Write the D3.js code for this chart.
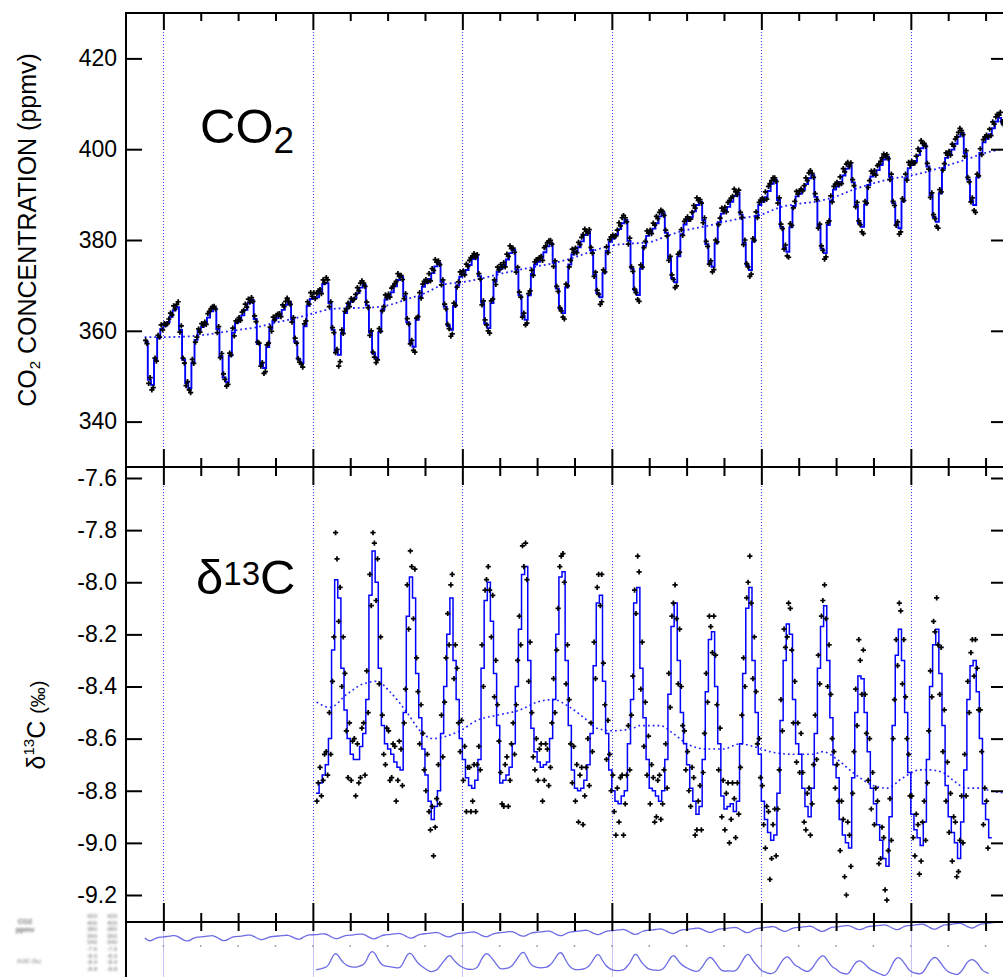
<!DOCTYPE html>
<html>
<head>
<meta charset="utf-8">
<script src="https://cdn.jsdelivr.net/npm/d3@7"></script>
<style>
  body { margin: 0; background: #fff; }
  svg { display: block; }
  text { font-family: "Liberation Sans", Arial, Helvetica, sans-serif; }
  .tick line { stroke: #000; stroke-width: 2; }
  .tick text { fill: #000; }
</style>
</head>
<body>
<svg id="chart" width="1003" height="977"></svg>
<script>
// ---- CO2 concentration (ppmv), monthly fitted values, July 1991 .. June 2014
const co2Start = [1991, 6];
const co2Monthly = [
  357.6, 349.2, 348.1, 353.6, 358.4, 360.4,
  361.1, 361.9, 363.1, 364.5, 365.2, 360.2, 353.6, 348.5, 347.4, 353.0, 358.0, 360.1,
  360.8, 361.7, 362.9, 364.3, 365.0, 360.4, 354.4, 349.7, 348.7, 354.5, 359.6, 361.7,
  362.5, 363.4, 364.6, 366.1, 366.8, 362.6, 357.1, 352.7, 351.8, 356.4, 360.5, 362.2,
  362.8, 363.5, 364.6, 365.7, 366.3, 362.5, 357.6, 353.7, 352.9, 361.0, 365.5, 367.0,
  367.4, 367.4, 368.6, 370.3, 370.5, 366.1, 360.2, 355.6, 354.7, 359.6, 363.9, 365.8,
  366.4, 367.2, 368.3, 369.5, 370.1, 365.6, 359.6, 355.0, 354.0, 359.7, 364.7, 366.9,
  367.6, 368.5, 369.8, 371.2, 371.9, 367.6, 361.9, 357.4, 356.5, 362.4, 367.5, 369.7,
  370.5, 371.4, 372.7, 374.2, 374.9, 370.8, 365.3, 361.1, 360.2, 365.4, 370.0, 371.9,
  372.6, 373.4, 374.5, 375.8, 376.5, 372.0, 366.2, 361.6, 360.6, 366.1, 370.9, 373.0,
  373.7, 374.5, 375.7, 377.1, 377.8, 373.5, 367.8, 363.3, 362.4, 367.8, 372.5, 374.6,
  375.2, 376.1, 377.3, 378.6, 379.3, 375.0, 369.3, 364.8, 363.9, 369.6, 374.6, 376.8,
  377.5, 378.4, 379.7, 381.1, 381.8, 377.8, 372.4, 368.3, 367.4, 372.8, 377.6, 379.6,
  380.3, 381.2, 382.4, 383.7, 384.4, 379.8, 373.7, 368.9, 367.9, 373.7, 378.7, 380.9,
  381.6, 382.5, 383.7, 385.2, 385.9, 381.6, 376.0, 371.6, 370.7, 376.4, 381.3, 383.4,
  384.2, 385.0, 386.3, 387.7, 388.4, 384.4, 379.1, 375.0, 374.1, 379.3, 383.9, 385.8,
  386.5, 387.3, 388.4, 389.7, 390.4, 385.6, 379.4, 374.4, 373.4, 379.7, 385.3, 387.7,
  388.4, 389.4, 390.8, 392.4, 393.2, 388.8, 382.9, 378.3, 377.4, 382.8, 387.5, 389.6,
  390.2, 391.1, 392.3, 393.6, 394.3, 389.5, 383.1, 378.1, 377.1, 383.3, 388.7, 391.1,
  391.8, 392.8, 394.2, 395.7, 396.5, 392.7, 387.7, 383.7, 382.9, 387.8, 392.1, 394.0,
  394.6, 395.4, 396.5, 397.7, 398.3, 393.9, 388.1, 383.5, 382.6, 388.5, 393.6, 395.8,
  396.5, 397.4, 398.7, 400.2, 400.9, 396.2, 389.9, 385.0, 384.0, 390.3, 395.8, 398.1,
  398.9, 399.9, 401.2, 402.8, 403.6, 399.1, 393.3, 388.7, 387.7, 393.8, 399.2, 401.5,
  402.3, 403.3, 404.6, 406.1, 406.9, 405.8
];
// flask samples: two per month, departure from the monthly fit in tenths of ppmv
const co2Scatter = [
  3,-4, -8,5, -11,-6, 4,-3, 6,2, 9,-2,
  5,2, -3,7, 8,4, 10,3, 6,12, -5,9, 4,-7, -6,3, -4,-10, 7,-2, -5,6, 3,-4,
  8,4, 2,-3, 9,14, 6,10, 4,-2, -8,5, -3,6, 8,-4, -9,-5, 6,2, 10,-7, 5,3,
  4,-2, 7,11, 13,6, 9,2, 5,-3, 7,-6, 4,2, -5,3, -12,-8, 5,9, 3,-6, 8,2,
  6,9, 3,-4, 11,7, 8,15, 2,-5, -6,4, 8,-3, 2,-6, -3,-9, 5,12, 9,4, 14,6,
  10,-3, 8,14, 5,-4, 9,3, 12,7, -8,3, 5,-6, -4,3, -25,-15, 6,-2, 4,9, 3,-5,
  7,3, -2,8, 12,5, 10,15, 4,-3, 7,-5, -6,4, 3,-8, -10,-4, 8,2, -3,6, 10,4,
  5,-2, 9,13, 6,11, 14,8, 3,-6, -5,6, 8,-4, -3,5, -8,-12, 4,7, 9,-3, 6,12,
  8,3, 12,-4, 10,6, 15,9, 5,-3, -7,4, 6,-5, 3,-6, -14,-9, 7,2, -4,8, 11,5,
  6,-3, 13,8, 10,16, 7,12, -4,3, 6,-6, -5,4, 8,-3, -6,-11, 5,9, 3,-7, 10,4,
  9,3, 5,-4, 12,7, 16,10, 4,-5, -6,5, 7,-4, -3,6, -11,-7, 4,10, 8,-3, 6,11,
  5,9, 3,-6, 10,14, 8,12, 6,-2, -8,4, 5,-6, 3,-4, -9,-13, 7,3, -5,9, 12,4,
  7,-3, 11,6, 9,15, 13,8, -3,5, 6,-7, -4,5, 6,-3, -16,-10, 6,2, 9,-4, 5,11,
  8,4, -3,10, 14,7, 12,17, 5,-4, -7,6, 4,-6, 3,-5, -10,-14, 8,3, -4,10, 11,6,
  6,-2, 12,8, 15,10, 9,14, 4,-5, 6,-7, -5,4, 7,-3, -12,-8, 5,9, 10,-3, 7,12,
  9,4, -4,11, 13,7, 16,10, 5,-3, -6,5, 6,-5, -3,4, -11,-6, 7,3, -5,9, 12,6,
  7,-3, 10,14, 8,12, 15,9, -4,6, 5,-6, -4,6, 4,-3, -14,-9, 6,2, 9,-4, 6,11,
  8,3, 12,-4, 10,16, 7,13, 5,-3, -7,5, 6,-4, -3,6, -9,-12, 8,4, -4,10, 11,5,
  6,10, -3,9, 14,8, 12,17, 4,-5, 7,-6, -5,4, 6,-4, -13,-8, 5,9, 10,-3, 7,12,
  9,4, 11,-4, 15,8, 10,14, -3,5, 6,-7, -4,6, 5,-3, -11,-15, 7,3, -5,10, 12,6,
  7,-3, 10,13, 8,16, 12,9, 5,-4, -6,6, 4,-5, -3,5, -13,-8, 6,2, 9,-4, 13,7,
  8,4, -4,11, 14,9, 17,11, 4,-3, 7,-6, -5,5, 6,-3, -10,-14, 8,3, -4,10, 11,6,
  6,-2, 12,8, 10,15, 9,18, 5,-4, -7,6, 5,-5, -3,6, -12,-16, 7,3, 9,-4, 6,12,
  8,4, 11,-3, 14,9, 10,16, 6,12, 3,-4
];
// long-term trend of CO2 (year, ppmv)
const co2TrendYears = [1991.5, 1992, 1992.5, 1993, 1993.5, 1994, 1994.5, 1995, 1995.5, 1996, 1996.5, 1997, 1997.5, 1998, 1998.5, 1999, 1999.5, 2000, 2000.5, 2001, 2001.5, 2002, 2002.5, 2003, 2003.5, 2004, 2004.5, 2005, 2005.5, 2006, 2006.5, 2007, 2007.5, 2008, 2008.5, 2009, 2009.5, 2010, 2010.5, 2011, 2011.5, 2012, 2012.5, 2013, 2013.5, 2014, 2014.6];
const co2TrendValues = [358.6, 358.6, 358.7, 359.0, 359.6, 360.2, 360.8, 361.8, 362.7, 363.8, 364.8, 365.0, 365.1, 365.6, 366.9, 368.3, 370.2, 370.7, 371.5, 372.5, 373.4, 374.2, 375.0, 376.2, 377.6, 378.8, 379.2, 379.5, 381.0, 382.2, 383.0, 384.0, 384.8, 385.6, 387.2, 388.0, 388.5, 389.6, 391.2, 392.5, 393.5, 394.2, 395.2, 396.5, 397.8, 399.2, 400.2];

// ---- delta 13C (per mil), monthly fitted values, February 1996 .. February 2014
const d13Start = [1996, 1];
const d13Monthly = [
  -8.81, -8.77, -8.74, -8.70, -8.60, -8.26, -7.99, -8.06, -8.33, -8.49, -8.60,
  -8.66, -8.68, -8.68, -8.63, -8.58, -8.45, -8.05, -7.88, -8.00, -8.33, -8.55, -8.62,
  -8.64, -8.66, -8.69, -8.71, -8.72, -8.50, -8.13, -7.98, -8.06, -8.35, -8.52, -8.64,
  -8.74, -8.84, -8.91, -8.86, -8.80, -8.58, -8.40, -8.20, -8.06, -8.30, -8.45, -8.60,
  -8.68, -8.75, -8.78, -8.79, -8.76, -8.68, -8.33, -8.07, -8.00, -8.15, -8.35, -8.55,
  -8.77, -8.76, -8.74, -8.71, -8.62, -8.40, -8.18, -7.97, -7.94, -8.30, -8.56, -8.65,
  -8.69, -8.71, -8.70, -8.69, -8.60, -8.45, -8.20, -7.98, -7.96, -8.30, -8.55, -8.72,
  -8.79, -8.80, -8.79, -8.76, -8.70, -8.58, -8.32, -8.08, -8.05, -8.38, -8.58, -8.72,
  -8.80, -8.84, -8.85, -8.82, -8.80, -8.62, -8.45, -8.08, -8.02, -8.33, -8.52, -8.68,
  -8.79, -8.80, -8.82, -8.84, -8.80, -8.68, -8.43, -8.17, -8.08, -8.30, -8.50, -8.62,
  -8.70, -8.79, -8.84, -8.89, -8.86, -8.68, -8.42, -8.22, -8.19, -8.40, -8.62, -8.82,
  -8.87, -8.86, -8.85, -8.88, -8.84, -8.62, -8.35, -8.10, -8.02, -8.30, -8.50, -8.66,
  -8.84, -8.91, -8.96, -8.99, -8.97, -8.81, -8.53, -8.30, -8.16, -8.20, -8.45, -8.62,
  -8.66, -8.79, -8.86, -8.90, -8.79, -8.58, -8.33, -8.17, -8.09, -8.30, -8.52, -8.70,
  -8.75, -8.91, -8.97, -9.00, -9.02, -8.75, -8.50, -8.36, -8.37, -8.50, -8.65, -8.79,
  -8.85, -8.93, -8.99, -9.06, -9.09, -8.90, -8.55, -8.28, -8.18, -8.30, -8.50, -8.73,
  -8.89, -8.95, -8.98, -9.01, -8.92, -8.68, -8.40, -8.24, -8.18, -8.35, -8.55, -8.78,
  -8.90, -8.96, -9.00, -9.06, -8.92, -8.72, -8.45, -8.32, -8.30, -8.42, -8.60, -8.85,
  -8.91, -8.98
];
// flask samples: two per month, departure from the monthly fit in hundredths of per mil
const d13Scatter = [
  -3,4, 6,-5, -2,8, 5,-4, 10,-6, -12,5, 18,8, -9,4, -7,12, 14,-8, -15,6,
  -10,5, 8,-14, 6,-9, -12,7, 4,-16, 11,-5, 8,-4, 7,3, -7,9, -6,12, 4,-11, -8,6,
  7,-12, -9,4, 6,-15, -5,10, 8,-6, -4,9, 12,-5, 10,4, -8,11, 6,-7, -10,5, 6,-8,
  -6,8, -4,-11, 5,-14, -8,3, 10,-5, 7,-9, -6,11, 8,-4, 5,9, -7,6, 12,-9, -5,7,
  -8,5, -13,4, 7,-10, -5,9, -12,6, 5,-4, 9,-7, 4,8, 6,-3, -6,10, -9,5, 8,-6,
  4,-8, -10,6, 7,-12, -5,9, 8,-4, -7,10, 5,-6, 11,3, 9,-5, -8,7, 6,-11, -7,5,
  -7,5, 9,-13, -6,8, 5,-9, -11,6, 8,-5, -6,10, 4,8, 7,-4, -9,6, 10,-7, -5,9,
  -5,9, -12,6, 8,-14, -6,5, 10,-8, 4,-7, 9,-5, 6,11, -4,8, 7,-9, -10,5, 6,-8,
  6,-8, -13,5, -7,10, 8,-15, -5,6, 7,-10, -6,9, 5,-4, 12,6, -8,10, -11,6, -6,9,
  -6,9, 5,-12, -8,6, 10,-7, -5,8, 6,-11, 8,-5, 4,9, 7,-6, -9,12, 10,-5, 5,-10,
  5,-10, -7,8, 9,-13, -6,5, 8,-9, -5,10, 7,-4, 9,5, -8,6, 12,-7, -10,6, -8,6,
  -8,6, 9,-14, -6,8, 5,-10, 7,-5, -9,11, 6,-5, 4,10, 12,-6, -7,9, 8,-12, 6,-9,
  6,-9, -11,5, 8,-18, -7,6, 10,-8, -6,9, 8,-4, 12,5, -5,8, 10,-6, -9,7, -7,8,
  -7,8, 6,-13, -9,5, 11,-7, -6,9, 7,-10, 5,-6, 4,10, 8,-5, -10,6, 9,-8, 5,-9,
  5,-9, -12,7, 6,-16, -20,8, 5,-7, -6,10, 9,-5, 14,6, -6,11, 7,-8, -11,5, -8,6,
  -8,6, 9,-15, -7,5, 8,-12, -13,6, 7,-9, -5,10, 6,-4, 10,7, -9,8, 6,-10, 7,-9,
  7,-9, -10,6, 5,-14, -6,9, 8,-7, -9,11, 6,-4, 9,5, 12,-6, -8,10, -10,6, -6,9,
  -6,9, -11,6, 8,-13, -5,7, 10,-8, 6,-10, 7,-5, 5,10, -6,8, 9,-7, 11,-5, -8,6,
  7,-11
];
// smoothed delta 13C (year, per mil)
const d13SmoothYears = [1996.1, 1996.46, 1996.91, 1997.34, 1997.72, 1998.06, 1998.52, 1998.87, 1999.22, 1999.59, 1999.94, 2000.39, 2000.93, 2001.54, 2002.0, 2002.43, 2002.88, 2003.34, 2003.6, 2004.03, 2004.57, 2004.75, 2005.29, 2005.64, 2006.01, 2006.55, 2006.98, 2007.43, 2007.78, 2008.23, 2008.85, 2009.38, 2009.65, 2010.03, 2010.45, 2010.99, 2011.36, 2011.79, 2012.25, 2012.51, 2012.86, 2013.13, 2013.5, 2013.85, 2014.12, 2014.6];
const d13SmoothValues = [-8.46, -8.48, -8.43, -8.39, -8.38, -8.42, -8.50, -8.57, -8.60, -8.59, -8.57, -8.53, -8.51, -8.49, -8.46, -8.45, -8.48, -8.53, -8.56, -8.57, -8.56, -8.55, -8.55, -8.58, -8.62, -8.64, -8.64, -8.62, -8.63, -8.65, -8.66, -8.66, -8.65, -8.68, -8.73, -8.78, -8.79, -8.75, -8.72, -8.72, -8.73, -8.76, -8.79, -8.79, -8.80, -8.81];

// axis ticks
const co2Ticks = [340, 360, 380, 400, 420];
const d13Ticks = [-7.6, -7.8, -8.0, -8.2, -8.4, -8.6, -8.8, -9.0, -9.2];
const yearTicks = d3.range(1991, 2015);
const majorYears = [1992, 1996, 2000, 2004, 2008, 2012];
const thumbLabels = ["420", "400", "380", "360", "340", "-7.6", "-8.0", "-8.4", "-8.8"];

// ---- layout
const svg = d3.select("#chart");
const x = d3.scaleLinear().domain([1991, 2014.6]).range([126, 1008]);
const yC = d3.scaleLinear().domain([330, 430]).range([467, 13]);
const yD = d3.scaleLinear().domain([-9.3036, -7.5578]).range([922, 467]);
const yCmini = d3.scaleLinear().domain([348, 407]).range([941, 922]);
const yDmini = d3.scaleLinear().domain([-9.1, -7.9]).range([976, 951]);

const monthTime = (start, i) => start[0] + (start[1] + i) / 12;
function monthlySeries(start, vals) {
  const pts = vals.map((v, i) => ({ t: monthTime(start, i), v }));
  pts.push({ t: monthTime(start, vals.length), v: vals[vals.length - 1] });
  return pts;
}
function samples(start, vals, resid, unit) {
  const out = [];
  const n = Math.min(vals.length * 2, resid.length);
  for (let k = 0; k < n; k++) {
    const i = Math.floor(k / 2);
    const frac = k % 2 === 0 ? 0.3 : 0.75;
    out.push({ t: monthTime(start, i + frac), v: vals[i] + resid[k] * unit });
  }
  return out;
}
const co2Line = monthlySeries(co2Start, co2Monthly);
const d13Line = monthlySeries(d13Start, d13Monthly);
const co2Pts = samples(co2Start, co2Monthly, co2Scatter, 0.1);
const d13Pts = samples(d13Start, d13Monthly, d13Scatter, 0.01);
const co2Trend = co2TrendYears.map((t, i) => ({ t, v: co2TrendValues[i] }));
const d13Smooth = d13SmoothYears.map((t, i) => ({ t, v: d13SmoothValues[i] }));

const defs = svg.append("defs");
defs.append("clipPath").attr("id", "clipTop").append("rect").attr("x", 127).attr("y", 14).attr("width", 900).attr("height", 452);
defs.append("clipPath").attr("id", "clipBot").append("rect").attr("x", 127).attr("y", 468).attr("width", 900).attr("height", 453);
defs.append("clipPath").attr("id", "clipMini").append("rect").attr("x", 127).attr("y", 923).attr("width", 900).attr("height", 60);
defs.append("filter").attr("id", "soft").append("feGaussianBlur").attr("stdDeviation", 0.6);
defs.append("filter").attr("id", "softer").append("feGaussianBlur").attr("stdDeviation", 0.85);

svg.append("rect").attr("width", 1003).attr("height", 977).attr("fill", "#fff");

// ---- four-year guide lines (dotted), snapped to whole pixels
const gx = d => Math.round(x(d)) + 0.5;
const guides = svg.append("g");
guides.selectAll("line.gt").data(majorYears).join("line")
  .attr("x1", gx).attr("x2", gx).attr("y1", 32).attr("y2", 449)
  .attr("stroke", "#3c3cff").attr("stroke-width", 1).attr("stroke-dasharray", "1,2");
guides.selectAll("line.gb").data(majorYears).join("line")
  .attr("x1", gx).attr("x2", gx).attr("y1", 486).attr("y2", 903)
  .attr("stroke", "#3c3cff").attr("stroke-width", 1).attr("stroke-dasharray", "1,2");
guides.selectAll("line.gm").data(majorYears).join("line")
  .attr("x1", gx).attr("x2", gx).attr("y1", 931).attr("y2", 977)
  .attr("stroke", "#c4c4f6").attr("stroke-width", 1);

// ---- CO2 panel
const gTop = svg.append("g").attr("clip-path", "url(#clipTop)");
gTop.append("path").datum(co2Trend)
  .attr("d", d3.line().x(d => x(d.t)).y(d => yC(d.v)).curve(d3.curveMonotoneX))
  .attr("fill", "none").attr("stroke", "#2020ff").attr("stroke-width", 1.8)
  .attr("stroke-dasharray", "1.8,3");
gTop.append("path").datum(co2Line)
  .attr("d", d3.line().x(d => x(d.t)).y(d => yC(d.v)).curve(d3.curveStepAfter))
  .attr("fill", "none").attr("stroke", "#0000ff").attr("stroke-width", 1.9);
const cross = d3.symbol(d3.symbolCross, 15);
gTop.selectAll("path.pt").data(co2Pts).join("path")
  .attr("transform", d => `translate(${x(d.t)},${yC(d.v)})`)
  .attr("d", cross).attr("fill", "#000");

// ---- delta 13C panel
const gBot = svg.append("g").attr("clip-path", "url(#clipBot)");
gBot.append("path").datum(d13Smooth)
  .attr("d", d3.line().x(d => x(d.t)).y(d => yD(d.v)).curve(d3.curveMonotoneX))
  .attr("fill", "none").attr("stroke", "#2020ff").attr("stroke-width", 1.6)
  .attr("stroke-dasharray", "1.8,3");
gBot.append("path").datum(d13Line)
  .attr("d", d3.line().x(d => x(d.t)).y(d => yD(d.v)).curve(d3.curveStepAfter))
  .attr("fill", "none").attr("stroke", "#0000ff").attr("stroke-width", 1.5);
gBot.selectAll("path.pt").data(d13Pts).join("path")
  .attr("transform", d => `translate(${x(d.t)},${yD(d.v)})`)
  .attr("d", cross).attr("fill", "#000");

// ---- thumbnail strip below the lower axis
const gMini = svg.append("g").attr("clip-path", "url(#clipMini)").attr("filter", "url(#soft)");
gMini.append("path").datum(co2Line.slice(0, -1))
  .attr("d", d3.line().x(d => x(d.t)).y(d => yCmini(d.v)).curve(d3.curveBasis))
  .attr("fill", "none").attr("stroke", "#6c6ce4").attr("stroke-width", 1.3);
gMini.append("path").datum(d13Line.slice(0, -1))
  .attr("d", d3.line().x(d => x(d.t)).y(d => yDmini(d.v)).curve(d3.curveBasis))
  .attr("fill", "none").attr("stroke", "#6c6ce4").attr("stroke-width", 1.3);
gMini.selectAll("circle").data(yearTicks.slice(1)).join("circle")
  .attr("cx", d => x(d)).attr("cy", 946).attr("r", 0.9).attr("fill", "#9a9a9a");

const gThumbText = svg.append("g").attr("filter", "url(#softer)").attr("fill", "#707070");
gThumbText.selectAll("text.a").data(thumbLabels).join("text")
  .attr("x", 97).attr("y", (d, i) => 918 + i * 6.6).attr("text-anchor", "end")
  .attr("font-size", 6).text(d => d);
gThumbText.selectAll("text.b").data(thumbLabels).join("text")
  .attr("x", 117).attr("y", (d, i) => 918 + i * 6.6).attr("text-anchor", "end")
  .attr("font-size", 6).text(d => d);
gThumbText.append("text").attr("x", 25).attr("y", 924).attr("text-anchor", "middle")
  .attr("font-size", 7).attr("font-weight", "bold").text("CO2");
gThumbText.append("text").attr("x", 25).attr("y", 932).attr("text-anchor", "middle")
  .attr("font-size", 7).attr("font-weight", "bold").text("ppmv");
gThumbText.append("text").attr("x", 29).attr("y", 963).attr("text-anchor", "middle")
  .attr("font-size", 5.5).text("δ13C (‰)");

// ---- frame
const frame = svg.append("g").attr("stroke", "#000").attr("stroke-width", 2);
frame.append("line").attr("x1", 126).attr("x2", 126).attr("y1", 12).attr("y2", 977);
[13, 467, 922].forEach(yy => frame.append("line").attr("x1", 125).attr("x2", 1003).attr("y1", yy).attr("y2", yy));

// ---- year ticks on the horizontal axes
function yearAxis(gen, y0, vals, size) {
  svg.append("g").attr("transform", `translate(0,${y0})`)
    .call(gen(x).tickValues(vals).tickSize(size).tickFormat(""))
    .call(g => g.select(".domain").remove());
}
const minorYears = yearTicks.filter(d => !majorYears.includes(d) && d > 1991);
yearAxis(d3.axisBottom, 13, minorYears, 8);
yearAxis(d3.axisBottom, 13, majorYears, 17);
yearAxis(d3.axisBottom, 467, minorYears, 9);
yearAxis(d3.axisTop, 467, minorYears, 9);
yearAxis(d3.axisBottom, 467, majorYears, 18);
yearAxis(d3.axisTop, 467, majorYears, 18);
yearAxis(d3.axisTop, 922, minorYears, 9);
yearAxis(d3.axisBottom, 922, minorYears, 9);
yearAxis(d3.axisTop, 922, majorYears, 19);
yearAxis(d3.axisBottom, 922, majorYears, 9);

// ---- value axes
function valueAxis(scale, vals, fmt) {
  svg.append("g").attr("transform", "translate(126,0)")
    .call(d3.axisRight(scale).tickValues(vals).tickSize(16).tickFormat(""))
    .call(g => g.select(".domain").remove());
  svg.append("g").attr("transform", "translate(1007,0)")
    .call(d3.axisLeft(scale).tickValues(vals).tickSize(16).tickFormat(""))
    .call(g => g.select(".domain").remove());
  svg.append("g").attr("transform", "translate(126,0)")
    .call(d3.axisLeft(scale).tickValues(vals).tickSize(0).tickPadding(9).tickFormat(fmt))
    .call(g => g.select(".domain").remove())
    .call(g => g.selectAll("text").attr("font-size", 23).attr("font-family", '"Liberation Sans", Arial, sans-serif'));
}
valueAxis(yC, co2Ticks, d => String(d));
valueAxis(yD, d13Ticks, d => d.toFixed(1));

// ---- axis titles
const t1 = svg.append("text").attr("transform", "translate(36,230) rotate(-90)")
  .attr("text-anchor", "middle").attr("font-size", 25).attr("fill", "#000");
t1.append("tspan").text("CO");
t1.append("tspan").attr("font-size", 15).attr("dy", 4).text("2");
t1.append("tspan").attr("dy", -4).text(" CONCENTRATION (ppmv)");

const t2 = svg.append("text").attr("transform", "translate(45,725) rotate(-90)")
  .attr("text-anchor", "middle").attr("font-size", 25).attr("fill", "#000");
t2.append("tspan").text("δ");
t2.append("tspan").attr("font-size", 15).attr("dy", -11).text("13");
t2.append("tspan").attr("dy", 11).text("C ");
t2.append("tspan").attr("font-size", 20).text("(‰)");

// ---- panel labels
const lab1 = svg.append("text").attr("x", 200).attr("y", 143).attr("font-size", 49).attr("fill", "#000");
lab1.append("tspan").text("CO");
lab1.append("tspan").attr("font-size", 37).attr("dy", 10).text("2");

const lab2 = svg.append("text").attr("x", 196).attr("y", 594).attr("font-size", 49).attr("fill", "#000");
lab2.append("tspan").text("δ");
lab2.append("tspan").attr("font-size", 33).attr("dy", -9).text("13");
lab2.append("tspan").attr("dy", 9).text("C");
</script>
</body>
</html>
